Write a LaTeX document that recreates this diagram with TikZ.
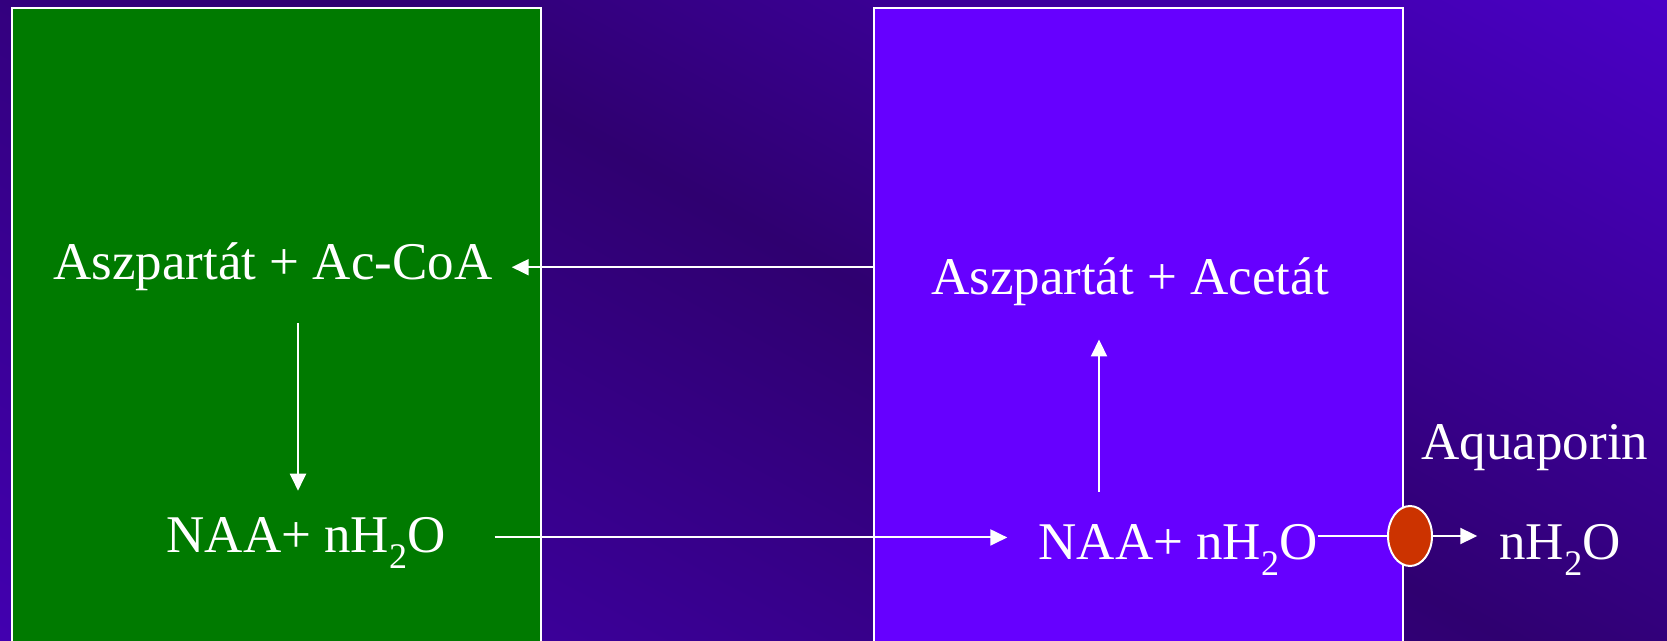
\documentclass[tikz,border=0pt]{standalone}
\usepackage{fontspec}
\setmainfont{Liberation Serif}
\usetikzlibrary{arrows.meta, positioning, shapes.geometric}

\definecolor{bgdark}{HTML}{2F0070}
\definecolor{bglow}{HTML}{4200B0}
\definecolor{bghigh}{HTML}{4E00D4}
\definecolor{neurongreen}{HTML}{007A00}
\definecolor{oligoviolet}{HTML}{6600FF}
\definecolor{aqpred}{HTML}{CC3300}

% lowered index digit
\newcommand{\lowsub}[1]{\raisebox{-16pt}{\fontsize{36}{36}\selectfont #1}}

\begin{document}
\begin{tikzpicture}[
  x=1pt, y=1pt,
  lbl/.style={text=white, inner sep=0pt, anchor=base, font=\fontsize{53}{60}\selectfont},
  cellbox/.style={draw=white, line width=2.2pt, anchor=north west, minimum width=529pt, minimum height=700pt, inner sep=0pt},
  arr/.style={-{Triangle[length=17pt,width=16pt]}, white, line width=2pt}
]
% background
\useasboundingbox (0,0) rectangle (1667,640);
\fill[bgdark] (0,0) rectangle (1667,640);
\begin{scope}
  \clip (0,0) rectangle (1667,640);
  \shade[transform canvas={rotate around={-28.7:(522,540)}},
    top color=bghigh, bottom color=bglow, middle color=bgdark]
    (-978,-190) rectangle (2022,1270);
\end{scope}

% the two cells
\node[cellbox, fill=neurongreen] (neuron) at (11,633) {};
\node[cellbox, fill=oligoviolet] (oligo) at (873,633) {};

% labels
\node[lbl] (acoa) at (273,360) {Aszpartát + Ac-CoA};
\node[lbl] (naaL) at (306,88) {NAA+ nH\lowsub{2}O};
\node[lbl] (acetat) at (1130,345) {Aszpartát + Acetát};
\node[lbl] (naaR) at (1178,81) {NAA+ nH\lowsub{2}O};
\node[lbl] (aqua) at (1535,180) {Aquaporin};
\node[lbl] (water) at (1560,81) {nH\lowsub{2}O};

% channel
\node[ellipse, draw=white, line width=2pt, fill=aqpred, minimum width=44pt, minimum height=60pt, inner sep=0pt] (aqp) at (1410,104) {};

% arrows
\draw[arr, shorten >=19pt] (acoa.east -| oligo.west) -- (acoa.east);
\draw[arr, shorten <=32pt, shorten >=26pt] ([xshift=25pt]acoa.south) -- ([xshift=25pt]acoa.south |- naaL.north);
\coordinate (flux) at ([xshift=49pt,yshift=5pt]naaL.east);
\draw[arr] (flux) -- ([xshift=-31pt]flux -| naaR.west);
\draw[arr, shorten <=32pt, shorten >=33pt] ([xshift=-79pt]naaR.north) -- ([xshift=-79pt]naaR.north |- acetat.south);
\draw[white, line width=2pt] (aqp.west -| naaR.east) -- (aqp.west);
\draw[arr, shorten >=22pt] (aqp.east) -- (aqp.east -| water.west);
\end{tikzpicture}
\end{document}
